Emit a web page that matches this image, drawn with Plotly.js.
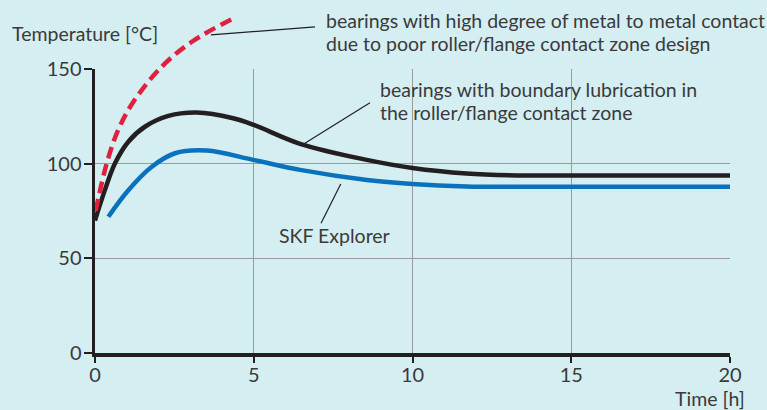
<!DOCTYPE html>
<html>
<head>
<meta charset="utf-8">
<script src="https://cdn.plot.ly/plotly-3.0.1.min.js"></script>
<style>
  html, body { margin: 0; padding: 0; background: #d5eef2; }
  #chart { width: 767px; height: 410px; }
</style>
</head>
<body>
<div id="chart"></div>
<script>
// Data
const redHours   = [0.02, 0.37, 0.73, 1.21, 2.1, 3.05, 4.36];
const redTemp    = [75, 100.2, 117.8, 132.7, 151.2, 164.4, 176.8];

const blackHours = [0, 0.3, 0.63, 1.05, 1.57, 2.31, 3.2, 4.35, 5.0, 6.46, 8.56, 10, 11.7, 13.3, 15, 20];
const blackTemp  = [70, 85.5, 100.2, 111.6, 119.5, 125.2, 127, 124, 120.5, 110.5, 102, 97.7, 94.8, 93.8, 93.7, 93.7];

const blueHours  = [0.42, 1.05, 1.79, 2.52, 3.52, 4.98, 6.46, 8.56, 10, 11.7, 13, 20];
const blueTemp   = [72, 86, 98.4, 105.5, 106.9, 102, 96.7, 91.4, 89.3, 88, 87.8, 87.8];

const xTicks = [0, 5, 10, 15, 20];
const yTicks = [0, 50, 100, 150];

const labelRed1   = 'bearings with high degree of metal to metal contact';
const labelRed2   = 'due to poor roller/flange contact zone design';
const labelBlack1 = 'bearings with boundary lubrication in';
const labelBlack2 = 'the roller/flange contact zone';
const labelBlue   = 'SKF Explorer';
const yTitle = 'Temperature [°C]';
const xTitle = 'Time [h]';

const FONT = 'Lato, "Open Sans", sans-serif';
const TXT = '#3a3a3a';
const INK = '#231f20';
const BG = '#d5eef2';
const ANN_SIZE = 19.5;

// Main axes show 0..150; an invisible, taller overlay pair (same scale) lets curves rise above 150
const mainDomainTop = 284 / 348;
const tallTop = 150 / mainDomainTop;

const traces = [
  { x: [], y: [], xaxis: 'x', yaxis: 'y', mode: 'lines', hoverinfo: 'skip' },
  { x: blackHours, y: blackTemp, xaxis: 'x2', yaxis: 'y2', mode: 'lines',
    line: { color: '#231f20', width: 4.5, shape: 'spline', smoothing: 1 }, hoverinfo: 'skip' },
  { x: blueHours, y: blueTemp, xaxis: 'x2', yaxis: 'y2', mode: 'lines',
    line: { color: '#0a72bd', width: 4.5, shape: 'spline', smoothing: 1 }, hoverinfo: 'skip' },
  { x: redHours, y: redTemp, xaxis: 'x2', yaxis: 'y2', mode: 'lines',
    line: { color: '#e0203c', width: 4.5, shape: 'spline', smoothing: 1, dash: '12px,6px' }, hoverinfo: 'skip' }
];

function ann(text, x, y, xanchor, ref) {
  return { text: text, x: x, y: y,
           xref: ref ? 'paper' : 'x2', yref: ref ? 'paper' : 'y2',
           xanchor: xanchor || 'left', yanchor: 'middle',
           showarrow: false, font: { family: FONT, size: ANN_SIZE, color: TXT } };
}

const layout = {
  width: 767, height: 410,
  margin: { l: 95, r: 37, t: 5, b: 57 },
  paper_bgcolor: BG,
  plot_bgcolor: 'rgba(0,0,0,0)',
  showlegend: false,
  xaxis: {
    range: [0, 20], domain: [0, 1], tickvals: xTicks, ticktext: xTicks.map(String),
    showgrid: true, gridcolor: '#9a9a9a', gridwidth: 1,
    showline: true, linecolor: INK, linewidth: 3.5,
    ticks: 'outside', ticklen: 6, tickwidth: 2, tickcolor: INK, ticklabelstandoff: -5,
    tickfont: { family: FONT, size: 20, color: TXT },
    zeroline: false, anchor: 'y', fixedrange: true
  },
  yaxis: {
    range: [0, 150], domain: [0, mainDomainTop], tickvals: yTicks, ticktext: yTicks.map(String),
    showgrid: true, gridcolor: '#9a9a9a', gridwidth: 1,
    showline: true, linecolor: INK, linewidth: 3.5,
    ticks: 'outside', ticklen: 8, tickwidth: 2, tickcolor: INK, ticklabelstandoff: -2,
    tickfont: { family: FONT, size: 20, color: TXT },
    zeroline: false, anchor: 'x', fixedrange: true
  },
  xaxis2: {
    range: [0, 20], domain: [0, 1], anchor: 'y2', visible: false, showgrid: false, fixedrange: true
  },
  yaxis2: {
    range: [0, tallTop], domain: [0, 1], anchor: 'x2', visible: false, showgrid: false, fixedrange: true
  },
  shapes: [
    { type: 'line', xref: 'x2', yref: 'y2', x0: 3.65, y0: 168, x1: 6.93, y1: 172.2, line: { color: INK, width: 1.2 } },
    { type: 'line', xref: 'x2', yref: 'y2', x0: 6.61, y0: 110.8, x1: 8.66, y1: 132.2, line: { color: INK, width: 1.2 } },
    { type: 'line', xref: 'x2', yref: 'y2', x0: 7.74, y0: 89.3, x1: 7.12, y1: 68.5, line: { color: INK, width: 1.2 } }
  ],
  annotations: [
    ann(yTitle, -0.134, 0.9195, 'left', true),
    ann(xTitle, 1.0268, -0.13, 'right', true),
    ann(labelBlue, 5.72, 61.8),
    ann(labelRed1, 7.2, 175.4),
    ann(labelRed2, 7.2, 163.4),
    ann(labelBlack1, 8.92, 139.4),
    ann(labelBlack2, 8.92, 127.0)
  ]
};

Plotly.newPlot('chart', traces, layout, { displayModeBar: false, staticPlot: true });
</script>
</body>
</html>
